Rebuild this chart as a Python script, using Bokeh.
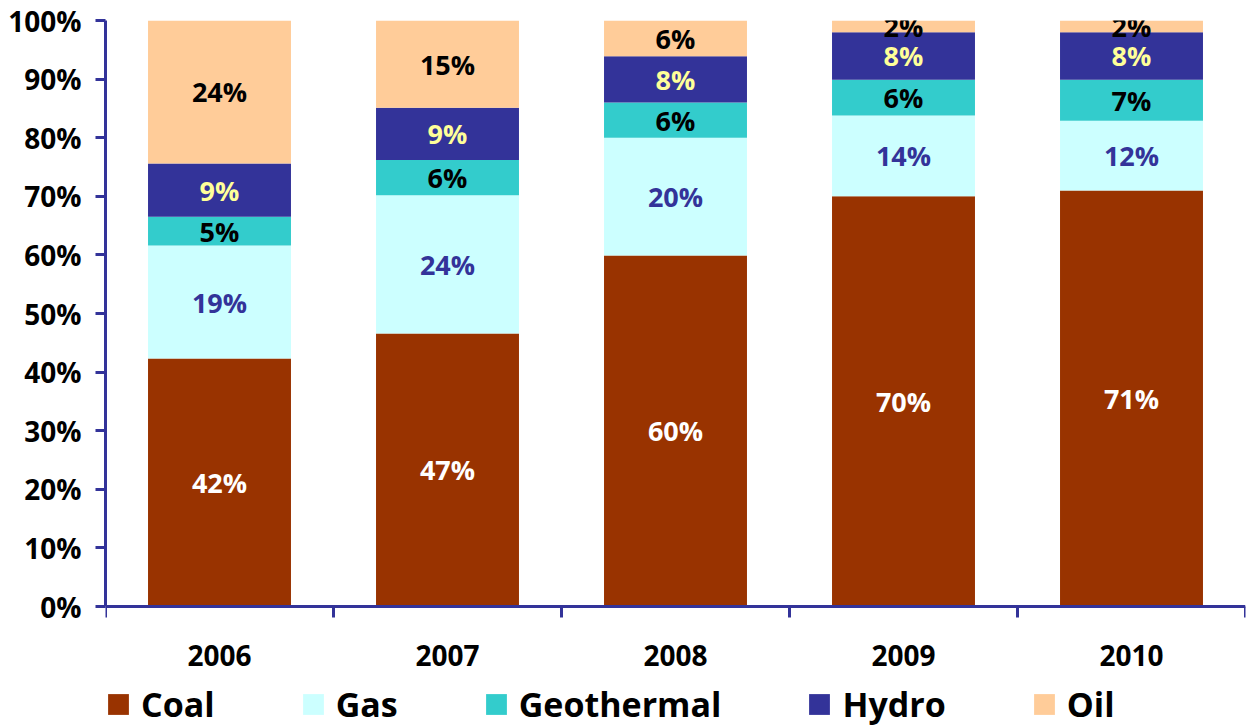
from bokeh.plotting import figure
from bokeh.models import (ColumnDataSource, FixedTicker, Legend, LegendItem, Range1d)
from bokeh.core.properties import value
from bokeh.embed import file_html
from bokeh.resources import INLINE

years = ["2006", "2007", "2008", "2009", "2010"]
series = ["Coal", "Gas", "Geothermal", "Hydro", "Oil"]
coal = [42.3, 46.6, 59.9, 70.0, 71.0]
gas = [19.3, 23.6, 20.1, 13.8, 11.9]
geothermal = [4.9, 6.0, 6.0, 6.1, 7.0]
hydro = [9.1, 8.9, 7.9, 8.1, 8.1]
oil = [24.4, 14.9, 6.1, 2.0, 2.0]
y_ticks = [0, 10, 20, 30, 40, 50, 60, 70, 80, 90, 100]

colors = ["#993300", "#CCFFFF", "#33CCCC", "#333399", "#FFCC99"]
label_colors = ["#FFFFFF", "#333399", "#000000", "#FFFF99", "#000000"]
FONT = "Open Sans"
AXIS_COLOR = "#333399"

# layout constants (pixels)
W, H = 1248, 727
TOP, ZERO_PX = 20, 606
TICK_PX = 11
px_per_unit = (ZERO_PX - TOP) / 100.0
y_min = -(H - ZERO_PX) / px_per_unit

values = [coal, gas, geothermal, hydro, oil]
n = len(years)
xs = [i + 0.5 for i in range(n)]
data = {"x": xs}
for name, vals in zip(series, values):
    data[name] = vals
source = ColumnDataSource(data)

p = figure(width=W, height=H, output_backend="svg", toolbar_location=None,
           x_range=Range1d(0, n), y_range=Range1d(y_min, 100),
           x_axis_location=None,
           min_border_left=105, min_border_right=3, min_border_top=TOP,
           min_border_bottom=0)
p.outline_line_color = None
p.grid.visible = False

renderers = p.vbar_stack(series, x="x", width=0.627, source=source,
                         color=colors, line_color=None)

# x axis baseline and boundary ticks
p.segment(x0=[0], y0=[0], x1=[n], y1=[0], line_color=AXIS_COLOR, line_width=3)
bounds_x = list(range(n + 1))
p.segment(x0=bounds_x, y0=[0] * (n + 1), x1=bounds_x,
          y1=[-TICK_PX / px_per_unit] * (n + 1), line_color=AXIS_COLOR, line_width=3)

# category labels under the axis
p.text(x=xs, y=[0] * n, text=years, y_offset=49, text_align="center",
       text_baseline="middle", text_color="#000000", text_font=value(FONT),
       text_font_style="bold", text_font_size="28px")

# data labels
for k, name in enumerate(series):
    mids, texts = [], []
    for i in range(n):
        base = sum(values[j][i] for j in range(k))
        mids.append(base + values[k][i] / 2)
        texts.append(f"{round(values[k][i])}%")
    p.text(x=xs, y=mids, text=texts, text_align="center", text_baseline="middle",
           text_color=label_colors[k], text_font=value(FONT),
           text_font_style="bold", text_font_size="27px")

# y axis
ya = p.yaxis[0]
ya.ticker = FixedTicker(ticks=y_ticks)
ya.bounds = (0, 100)
ya.major_label_overrides = {t: f"{t}%" for t in y_ticks}
ya.axis_line_color = AXIS_COLOR
ya.axis_line_width = 3
ya.major_tick_line_color = AXIS_COLOR
ya.major_tick_line_width = 3
ya.major_tick_out = 10
ya.major_tick_in = 0
ya.minor_tick_line_color = None
ya.major_label_standoff = 14
ya.major_label_text_font = FONT
ya.major_label_text_font_style = "bold"
ya.major_label_text_font_size = "28px"
ya.major_label_text_color = "#000000"

legend = Legend(items=[LegendItem(label=nm, renderers=[r]) for nm, r in zip(series, renderers)],
                orientation="horizontal", location=(0, 0), spacing=85,
                glyph_width=26, glyph_height=26, label_standoff=10, padding=0, margin=0,
                border_line_color=None, background_fill_alpha=0,
                label_text_font=FONT, label_text_font_style="bold",
                label_text_font_size="34px", label_text_line_height=1.0,
                label_text_color="#000000")
p.add_layout(legend)

open("out.html", "w").write(file_html(p, INLINE))
